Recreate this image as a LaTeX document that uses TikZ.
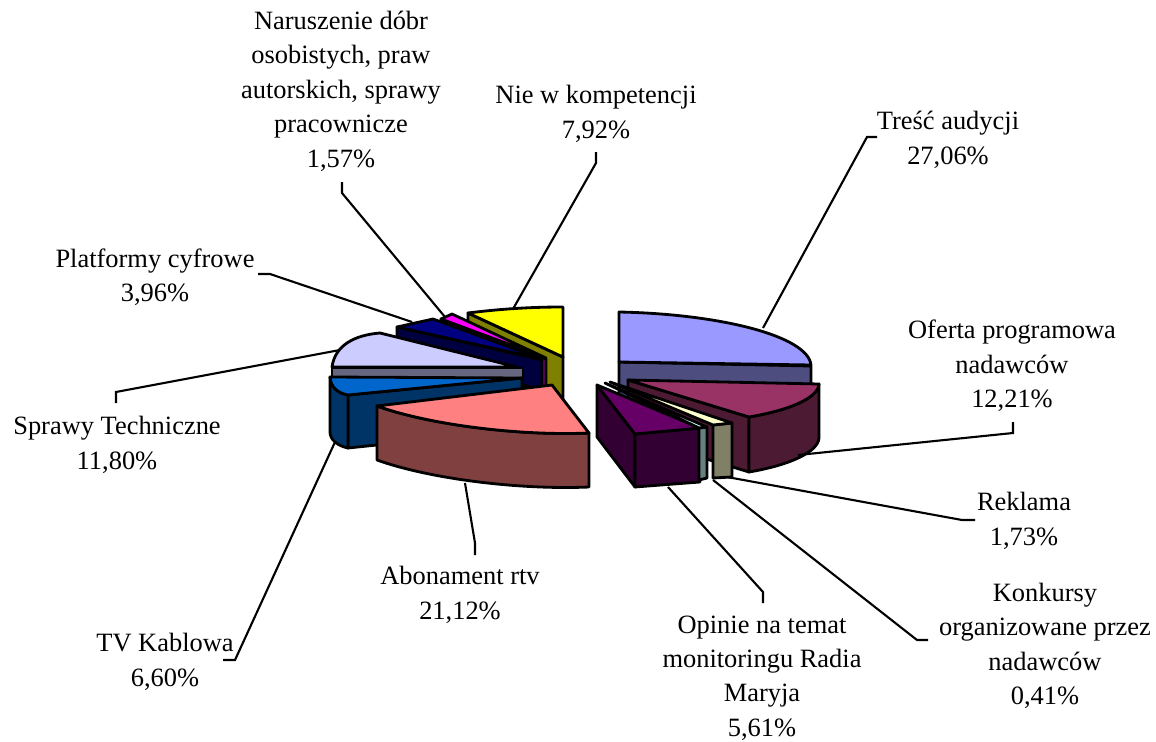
\documentclass[tikz,border=0pt]{standalone}
\usepackage{fontspec}
\setmainfont{Liberation Serif}

% Excel palette: top faces and darker side faces
\definecolor{trescTop}{HTML}{9999FF}\definecolor{trescSide}{HTML}{4D4D80}
\definecolor{ofertaTop}{HTML}{993366}\definecolor{ofertaSide}{HTML}{4D1A33}
\definecolor{reklamaTop}{HTML}{FFFFCC}\definecolor{reklamaSide}{HTML}{808066}
\definecolor{konkursTop}{HTML}{CCFFFF}\definecolor{konkursSide}{HTML}{668080}
\definecolor{opinieTop}{HTML}{660066}\definecolor{opinieSide}{HTML}{330033}
\definecolor{abonTop}{HTML}{FF8080}\definecolor{abonSide}{HTML}{804040}
\definecolor{kablTop}{HTML}{0066CC}\definecolor{kablSide}{HTML}{003366}
\definecolor{techTop}{HTML}{CCCCFF}\definecolor{techSide}{HTML}{666680}
\definecolor{platTop}{HTML}{000080}\definecolor{platSide}{HTML}{000040}
\definecolor{naruTop}{HTML}{FF00FF}\definecolor{naruSide}{HTML}{800080}
\definecolor{kompTop}{HTML}{FFFF00}\definecolor{kompSide}{HTML}{808000}

\tikzset{
  lbl/.style={align=center, inner sep=0pt, font=\fontsize{18.8}{24.5}\selectfont},
  face/.style={draw=black, line width=2pt, line join=round, fill=#1},
  leader/.style={draw=black, line width=1.5pt},
}

\begin{document}
\begin{tikzpicture}[x=0.025cm, y=-0.025cm]
\useasboundingbox (0,0) rectangle (1156,742);

% left part of the pie (back to front)
\path[face=kompSide] (468,313) -- (563,357) -- (563,400) -- (468,356) -- cycle;
\path[face=kompTop] (468,313) .. controls (500,309) and (530,307) .. (563,307) -- (563,357) -- cycle;
\path[face=naruSide] (441,319) -- (546,359) -- (546,395) -- (441,355) -- cycle;
\path[face=naruTop] (441,319) -- (452,314) -- (546,358) -- cycle;
\path[face=platSide] (397,327) -- (542,360) -- (542,390) -- (397,352) -- cycle;
\path[face=platTop] (397,327) -- (433,319) -- (542,359) -- cycle;
\path[face=techSide] (332,368) -- (523,368) -- (523,418) -- (332,418) -- cycle;
\path[face=techTop] (332,367) .. controls (335,345) and (355,335) .. (380,333) -- (517,367) -- cycle;
\path[face=kablSide] (348,395) -- (522,378) -- (522,430) -- (348,448) -- cycle;
\path[face=kablSide] (330,377) .. controls (331,388) and (338,393) .. (348,395) -- (348,448)
  .. controls (338,446) and (330,440) .. (330,432) -- cycle;
\path[face=kablTop] (330,377) -- (522,378) -- (348,395) .. controls (338,393) and (331,388) .. cycle;
\path[face=abonSide] (377,406) .. controls (430,425) and (520,436) .. (589,433) -- (589,487)
  .. controls (520,490) and (430,479) .. (377,460) -- cycle;
\path[face=abonTop] (377,406) -- (552,385) -- (589,433) .. controls (520,436) and (430,425) .. cycle;

% right part of the pie (back to front)
\path[face=trescSide] (619,362) -- (811,366) -- (811,420) -- (619,416) -- cycle;
\path[face=trescTop] (619,312) .. controls (720,314) and (808,336) .. (811,365) -- (619,362) -- cycle;
\path[face=ofertaSide] (628,380) -- (749,417) -- (749,472) -- (628,435) -- cycle;
\path[face=ofertaSide] (819,384) .. controls (818,398) and (790,410) .. (749,417) -- (749,472)
  .. controls (790,465) and (818,452) .. (819,438) -- cycle;
\path[face=ofertaTop] (628,380) -- (819,384) .. controls (818,398) and (790,410) .. (749,417) -- cycle;
\path[face=opinieSide] (597,385) -- (635,434) -- (635,487) -- (597,437) -- cycle;
\path[face=opinieSide] (635,434) -- (700,428) -- (700,482) -- (635,487) -- cycle;
\path[face=opinieTop] (597,385) -- (700,428) -- (635,434) -- cycle;
\path[face=konkursSide] (699,428) -- (707,427) -- (707,478) -- (699,480) -- cycle;
\path[face=konkursTop] (605,383) -- (707,427) -- (699,428) -- cycle;
\path[face=reklamaSide] (713,425) -- (732,423) -- (732,477) -- (713,478) -- cycle;
\path[face=reklamaTop] (610,382) -- (732,423) -- (713,425) -- cycle;

% nodes
\node[lbl] (naru) at (341,91) {Naruszenie dóbr\\osobistych, praw\\autorskich, sprawy\\pracownicze\\1,57\%};
\node[lbl] (komp) at (596,114) {Nie w kompetencji\\7,92\%};
\node[lbl] (tresc) at (948,140) {Treść audycji\\27,06\%};
\node[lbl] (plat) at (155,277) {Platformy cyfrowe\\3,96\%};
\node[lbl] (oferta) at (1012,366) {Oferta programowa\\nadawców\\12,21\%};
\node[lbl] (tech) at (117,445) {Sprawy Techniczne\\11,80\%};
\node[lbl] (reklama) at (1024,521) {Reklama\\1,73\%};
\node[lbl] (abon) at (460,595) {Abonament rtv\\21,12\%};
\node[lbl] (konk) at (1045,646) {Konkursy\\organizowane przez\\nadawców\\0,41\%};
\node[lbl] (opinie) at (762,678) {Opinie na temat\\monitoringu Radia\\Maryja\\5,61\%};
\node[lbl] (kabl) at (165,662) {TV Kablowa\\6,60\%};

% leader ends
\coordinate (naru-a) at (342,182); \coordinate (naru-b) at (342,193); \coordinate (naru-p) at (445,317);
\coordinate (komp-a) at (596,152); \coordinate (komp-b) at (596,163); \coordinate (komp-p) at (513,309);
\coordinate (tresc-a) at (877,137); \coordinate (tresc-b) at (867,137); \coordinate (tresc-p) at (763,328);
\coordinate (plat-a) at (258,274); \coordinate (plat-b) at (270,274); \coordinate (plat-p) at (412,322);
\coordinate (oferta-a) at (1013,422); \coordinate (oferta-b) at (1013,433); \coordinate (oferta-p) at (798,455);
\coordinate (tech-a) at (116,403); \coordinate (tech-b) at (116,392); \coordinate (tech-p) at (340,350);
\coordinate (reklama-a) at (975,520); \coordinate (reklama-b) at (962,520); \coordinate (reklama-p) at (727,477);
\coordinate (abon-a) at (475,555); \coordinate (abon-b) at (475,543); \coordinate (abon-p) at (465,483);
\coordinate (konk-a) at (928,640); \coordinate (konk-b) at (917,640); \coordinate (konk-p) at (713,480);
\coordinate (opinie-a) at (763,603); \coordinate (opinie-b) at (763,592); \coordinate (opinie-p) at (668,487);
\coordinate (kabl-a) at (223,660); \coordinate (kabl-b) at (235,660); \coordinate (kabl-p) at (335,442);

% leaders
\foreach \s in {naru,komp,tresc,plat,oferta,tech,reklama,abon,konk,opinie,kabl}
  \draw[leader] (\s-a) -- (\s-b) -- (\s-p);

\end{tikzpicture}
\end{document}
